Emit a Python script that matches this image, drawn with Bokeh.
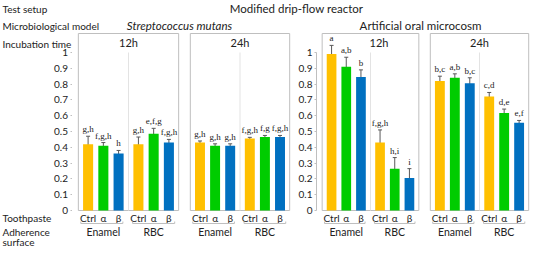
from bokeh.plotting import figure
from bokeh.models import (FactorRange, ColumnDataSource, Whisker, TeeHead, LabelSet, Label,
                          Range1d, FixedTicker, CustomJSTickFormatter)
from bokeh.layouts import row, column
from bokeh.transform import factor_cmap
from bokeh.core.properties import value
from bokeh.embed import file_html
from bokeh.resources import INLINE

FONT = "Lato"
TXT = "#222222"
GRAY = "#bfbfbf"

# ---------------- data ----------------
surfaces = ["Enamel", "RBC"]
toothpastes = ["Ctrl", "α", "β"]
bar_colors = ["#FFC000", "#00CC00", "#0070C0"]
y_ticks = [0, 0.1, 0.2, 0.3, 0.4, 0.5, 0.6, 0.7, 0.8, 0.9, 1]
incubation_times = ["12h", "24h", "12h", "24h"]
models = ["Streptococcus mutans", "Artificial oral microcosm"]
test_setup = "Modified drip-flow reactor"
row_labels = ["Test setup", "Microbiological model", "Incubation time", "Toothpaste",
              "Adherence", "surface"]

sm_12h_means = [0.42, 0.41, 0.36, 0.42, 0.485, 0.43]
sm_12h_errors = [0.05, 0.02, 0.02, 0.045, 0.035, 0.02]
sm_12h_letters = ["g,h", "f,g,h", "h", "g,h", "e,f,g", "f,g,h"]

sm_24h_means = [0.43, 0.41, 0.41, 0.455, 0.465, 0.465]
sm_24h_errors = [0.01, 0.012, 0.012, 0.008, 0.01, 0.01]
sm_24h_letters = ["g,h", "g,h", "g,h", "f,g,h", "f,g", "f,g,h"]

aom_12h_means = [0.99, 0.91, 0.845, 0.43, 0.265, 0.205]
aom_12h_errors = [0.055, 0.06, 0.045, 0.08, 0.07, 0.06]
aom_12h_letters = ["a", "a,b", "b", "f,g,h", "h,i", "i"]

aom_24h_means = [0.82, 0.84, 0.805, 0.722, 0.617, 0.555]
aom_24h_errors = [0.03, 0.025, 0.035, 0.025, 0.025, 0.015]
aom_24h_letters = ["b,c", "a,b", "b,c", "c,d", "d,e", "e,f"]

# ---------------- layout settings ----------------
HEADER_H = 32
PANEL_H = 214
Y_ZERO_PX = 178          # distance of y=0 from the top of a panel figure
PX_PER_UNIT = 158
Y_START = -(PANEL_H - Y_ZERO_PX) / PX_PER_UNIT
Y_END = Y_ZERO_PX / PX_PER_UNIT
GP = 0.3                 # gap between surface groups (factor units)
BOXPAD = 0.14            # box padding beyond the outer factors
BOX_MARGIN = 2           # px between figure frame and panel box
LEFT_W = 72
LBL_SIZE = "10px"


def py(px_above_zero):
    return px_above_zero / PX_PER_UNIT


BOX_TOP = py(Y_ZERO_PX - 1)


def style_yaxis(ya):
    ya.ticker = FixedTicker(ticks=y_ticks)
    ya.formatter = CustomJSTickFormatter(code="return String(Math.round(tick*10)/10)")
    ya.bounds = (0, 1)
    ya.axis_line_color = GRAY
    ya.major_tick_line_color = GRAY
    ya.major_tick_out = 2
    ya.major_tick_in = 0
    ya.minor_tick_line_color = None
    ya.major_label_standoff = 2
    ya.major_label_text_font = FONT
    ya.major_label_text_font_size = "10px"
    ya.major_label_text_color = TXT


def make_panel(title, means, errors, letters, fig_w, axis_w, title_x=None):
    frame_w = fig_w - axis_w
    span = 6 + GP
    u = (frame_w - 2 * BOX_MARGIN) / (span + 2 * BOXPAD)
    rp = frame_w / u - span
    factors = [(s, t) for s in surfaces for t in toothpastes]
    src = ColumnDataSource(dict(
        x=factors,
        top=means,
        upper=[m + e for m, e in zip(means, errors)],
        lower=[m - e for m, e in zip(means, errors)],
        letter=letters,
        tp=[t for s in surfaces for t in toothpastes],
    ))
    p = figure(x_range=FactorRange(*factors, group_padding=GP, range_padding=rp,
                                   range_padding_units="absolute"),
               y_range=Range1d(Y_START, Y_END), width=fig_w, height=PANEL_H,
               output_backend="svg", toolbar_location=None, min_border=0,
               min_border_left=axis_w)
    p.grid.visible = False
    p.outline_line_color = None
    p.xaxis.visible = False

    # panel box and group separator
    p.quad(left=[-BOXPAD], right=[span + BOXPAD], bottom=[0], top=[BOX_TOP],
           fill_color=None, line_color=GRAY, line_width=1)
    mid = 3 + GP / 2
    p.segment(x0=[mid], y0=[0], x1=[mid], y1=[1.0], line_color="#e3e3e3", line_width=1)

    p.vbar(x="x", top="top", width=0.66, source=src, line_color=None,
           fill_color=factor_cmap("x", bar_colors, toothpastes, start=1, end=2))

    p.add_layout(Whisker(base="x", upper="upper", lower="lower", source=src,
                         line_color="#595959", line_width=1,
                         upper_head=TeeHead(size=4, line_color="#595959", line_width=1),
                         lower_head=TeeHead(size=4, line_color="#595959", line_width=1)))

    p.add_layout(LabelSet(x="x", y="upper", text="letter", source=src, y_offset=2,
                          text_align="center", text_baseline="bottom",
                          text_font=FONT, text_font_size="9px", text_color=TXT))

    p.add_layout(Label(x=title_x if title_x is not None else span / 2, y=py(168),
                       text=title, text_align="center", text_baseline="middle",
                       text_font=FONT, text_font_size="11px", text_color=TXT))

    # category labels under the axis
    p.text(x="x", y=py(-7), text="tp", source=src, text_align="center",
           text_baseline="middle", text_font=value(FONT), text_font_size="10px",
           text_color=TXT)
    p.text(x=surfaces, y=[py(-21)] * 2, text=surfaces, text_align="center",
           text_baseline="middle", text_font=value(FONT), text_font_size="10.5px",
           text_color=TXT)
    inset = 0.12
    g0 = [0 + inset - 0.1, 3 + GP + inset]
    g1 = [3 - inset - 0.1, 6 + GP - inset]
    yb = py(-13)
    p.segment(x0=g0, y0=[yb] * 2, x1=g1, y1=[yb] * 2, line_color=GRAY, line_width=1)
    p.segment(x0=g0 + g1, y0=[yb] * 4, x1=g0 + g1, y1=[yb + py(2)] * 4,
              line_color=GRAY, line_width=1)

    if axis_w > 0:
        style_yaxis(p.yaxis[0])
    else:
        p.yaxis.visible = False
    return p


# left column: y-axis of the first panel and the row labels
left = figure(width=LEFT_W, height=PANEL_H, x_range=Range1d(0, LEFT_W),
              y_range=Range1d(Y_START, Y_END), output_backend="svg",
              toolbar_location=None, min_border=0)
left.grid.visible = False
left.outline_line_color = None
left.xaxis.visible = False
style_yaxis(left.yaxis[0])
left.yaxis[0].fixed_location = LEFT_W - 0.5
for txt, yy in [(row_labels[2], py(167)), (row_labels[3], py(-7)),
                (row_labels[4], py(-21)), (row_labels[5], py(-31))]:
    left.add_layout(Label(x=2, y=yy, text=txt, text_baseline="middle", text_font=FONT,
                          text_font_size=LBL_SIZE, text_color=TXT))

p1 = make_panel(incubation_times[0], sm_12h_means, sm_12h_errors, sm_12h_letters, 112, 0)
p2 = make_panel(incubation_times[1], sm_24h_means, sm_24h_errors, sm_24h_letters, 111, 0)
p3 = make_panel(incubation_times[2], aom_12h_means, aom_12h_errors, aom_12h_letters,
                129, 18, title_x=3.73)
p4 = make_panel(incubation_times[3], aom_24h_means, aom_24h_errors, aom_24h_letters, 110, 0)

# header strip
W = LEFT_W + 112 + 111 + 129 + 110
hdr = figure(width=W, height=HEADER_H, x_range=Range1d(0, W), y_range=Range1d(0, HEADER_H),
             output_backend="svg", toolbar_location=None, min_border=0)
hdr.axis.visible = False
hdr.grid.visible = False
hdr.outline_line_color = None
hdr.add_layout(Label(x=2, y=HEADER_H - 8, text=row_labels[0], text_baseline="middle",
                     text_font=FONT, text_font_size=LBL_SIZE, text_color=TXT))
hdr.add_layout(Label(x=2, y=HEADER_H - 25, text=row_labels[1], text_baseline="middle",
                     text_font=FONT, text_font_size=LBL_SIZE, text_color=TXT))
hdr.add_layout(Label(x=296, y=HEADER_H - 8, text=test_setup, text_align="center",
                     text_baseline="middle", text_font=FONT, text_font_size="11.5px",
                     text_color=TXT))
hdr.add_layout(Label(x=179, y=HEADER_H - 25, text=models[0], text_align="center",
                     text_baseline="middle", text_font=FONT, text_font_size="11.5px",
                     text_font_style="italic", text_color=TXT))
hdr.add_layout(Label(x=420, y=HEADER_H - 25, text=models[1], text_align="center",
                     text_baseline="middle", text_font=FONT, text_font_size="11.5px",
                     text_color=TXT))

layout = column(hdr, row(left, p1, p2, p3, p4, spacing=0), spacing=0)

open("out.html", "w").write(file_html(layout, INLINE))
